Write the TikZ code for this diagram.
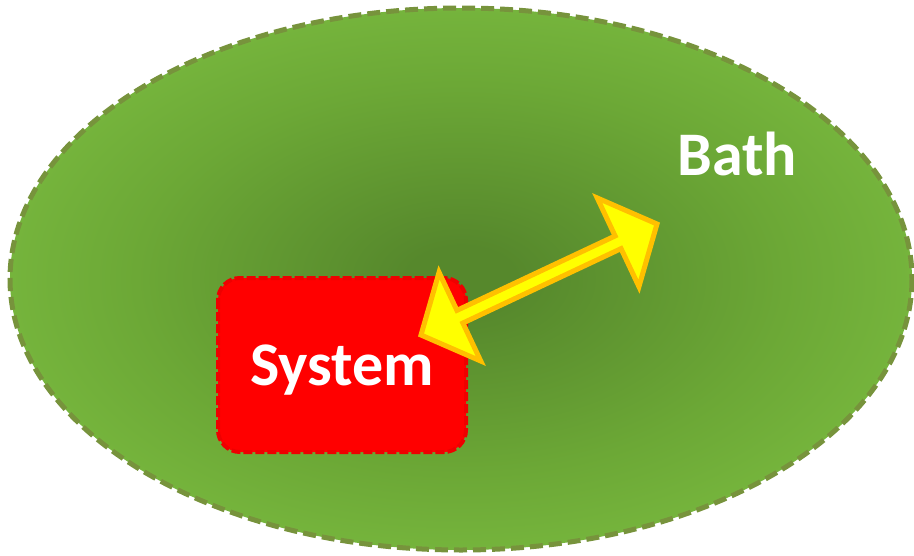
\documentclass[tikz,border=0pt]{standalone}
\usepackage{fontspec}
\setmainfont{Carlito}
\usetikzlibrary{calc}
\definecolor{bathdark}{RGB}{86,136,44}
\definecolor{bathmid}{RGB}{108,168,54}
\definecolor{bathlight}{RGB}{126,192,66}
\definecolor{bathedge}{RGB}{119,147,60}
\definecolor{sysred}{RGB}{255,0,0}
\definecolor{sysedge}{RGB}{238,0,0}
\definecolor{arrowfill}{RGB}{255,255,0}
\definecolor{arrowedge}{RGB}{255,192,0}
\pgfdeclareradialshading{bathshade}{\pgfpoint{0bp}{0bp}}{color(0bp)=(bathdark); color(3bp)=(bathdark); color(18bp)=(bathmid); color(32bp)=(bathlight); color(72bp)=(bathlight)}
\tikzset{
  lbl/.style={text=white, font=\fontsize{62}{70}\selectfont\bfseries, inner sep=0pt},
  bathline/.style={draw=bathedge, line width=5pt, dash pattern=on 13pt off 6pt},
  sysbox/.style={fill=sysred, draw=sysedge, line width=4pt, dash pattern=on 9pt off 3pt, rounded corners=22pt},
  bigarrow/.style={fill=arrowfill, draw=arrowedge, line width=5pt, line join=miter}
}
\begin{document}
\begin{tikzpicture}[x=1pt, y=-1pt]
\useasboundingbox (0,0) rectangle (914,555);
% bath ellipse
\shade[shading=bathshade] (461,279) ellipse [x radius=451, y radius=271];
\draw[bathline] (461,279) ellipse [x radius=451, y radius=271];
% system box
\draw[sysbox] (218,278) rectangle (466,452);
\node[lbl] (system) at (342,370) {System};
% bath label
\node[lbl] (bath) at (737,154) {Bath};
% double block arrow
\coordinate (ta) at (421,335);
\coordinate (tb) at (657,224);
\coordinate (ba) at ($(ta)!43pt!(tb)$);
\coordinate (bb) at ($(tb)!43pt!(ta)$);
\draw[bigarrow] (ta)
  -- ($(ba)!49pt!90:(tb)$) -- ($(ba)!7pt!90:(tb)$)
  -- ($(bb)!7pt!-90:(ta)$) -- ($(bb)!49pt!-90:(ta)$)
  -- (tb)
  -- ($(bb)!49pt!90:(ta)$) -- ($(bb)!7pt!90:(ta)$)
  -- ($(ba)!7pt!-90:(tb)$) -- ($(ba)!49pt!-90:(tb)$)
  -- cycle;
\end{tikzpicture}
\end{document}
